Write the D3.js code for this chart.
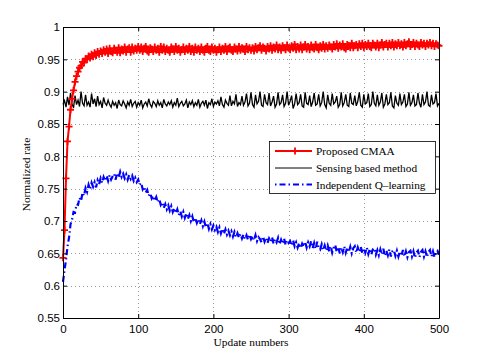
<!DOCTYPE html>
<html>
<head>
<meta charset="utf-8">
<script src="https://cdn.jsdelivr.net/npm/d3@7"></script>
<style>
body { margin: 0; background: #fff; }
.tick text { font-family: "Liberation Sans", Arial, sans-serif; font-size: 11.5px; fill: #000; }
.label, .legend text { font-family: "Liberation Serif", "Times New Roman", serif; fill: #000; }
</style>
</head>
<body>
<script>
// update numbers (x), one reading every 2 updates
var updates = d3.range(0, 501, 2);

// Proposed CMAA
var cmaa = [
  0.643, 0.686, 0.766, 0.823, 0.846, 0.872, 0.889, 0.902, 0.915, 0.924,
  0.931, 0.937, 0.940, 0.946, 0.945, 0.951, 0.950, 0.955, 0.952, 0.958,
  0.954, 0.960, 0.956, 0.962, 0.958, 0.963,
  0.959, 0.965, 0.961, 0.966, 0.959, 0.967, 0.962, 0.960, 0.967, 0.964,
  0.961, 0.968, 0.960, 0.966, 0.963, 0.969, 0.961, 0.966, 0.968, 0.961,
  0.969, 0.963, 0.967, 0.964, 0.970,
  0.964, 0.969, 0.962, 0.967, 0.970, 0.963, 0.961, 0.968, 0.966, 0.962,
  0.969, 0.964, 0.967, 0.961, 0.970, 0.964, 0.969, 0.962, 0.967, 0.964,
  0.961, 0.969, 0.966, 0.962, 0.970, 0.964, 0.967, 0.961, 0.965, 0.969,
  0.962, 0.967, 0.964, 0.970, 0.962, 0.967, 0.961, 0.969, 0.964, 0.967,
  0.962, 0.969, 0.964, 0.961, 0.967, 0.970, 0.964, 0.962, 0.969, 0.964,
  0.967, 0.961, 0.965, 0.969, 0.962, 0.967, 0.964, 0.970, 0.962, 0.967,
  0.969, 0.964, 0.962, 0.969, 0.966, 0.963, 0.970, 0.964, 0.968, 0.966,
  0.962, 0.970, 0.965, 0.968, 0.964,
  0.968, 0.963, 0.970, 0.965, 0.968, 0.971, 0.964, 0.969, 0.967, 0.963,
  0.970, 0.966, 0.971, 0.964, 0.969, 0.966, 0.972, 0.965, 0.969, 0.964,
  0.971, 0.968, 0.965, 0.972, 0.967, 0.965, 0.971, 0.967, 0.973, 0.965,
  0.970, 0.966, 0.972, 0.965, 0.969, 0.973, 0.966, 0.970, 0.965, 0.972,
  0.968, 0.966, 0.973, 0.968, 0.965, 0.971, 0.967, 0.973, 0.966, 0.971,
  0.967, 0.972, 0.969, 0.966, 0.973, 0.969, 0.974, 0.967, 0.972, 0.969,
  0.974, 0.968, 0.966, 0.973, 0.971, 0.968, 0.975, 0.968, 0.971, 0.973,
  0.968, 0.974, 0.970, 0.975, 0.968, 0.973, 0.970, 0.975, 0.970, 0.968,
  0.975, 0.972, 0.969, 0.975, 0.968, 0.972, 0.976, 0.969, 0.973, 0.975,
  0.969, 0.975, 0.971, 0.976, 0.969, 0.974, 0.971, 0.976, 0.971, 0.974,
  0.969, 0.976, 0.971, 0.974, 0.977, 0.970, 0.973, 0.976, 0.970, 0.975,
  0.972, 0.970, 0.976, 0.972, 0.975, 0.970, 0.975, 0.972, 0.976, 0.971,
  0.975, 0.970, 0.974, 0.972, 0.971
];

// Sensing based method
var sensing = [
  0.880, 0.886, 0.876, 0.892, 0.879, 0.898, 0.881, 0.875, 0.894, 0.880,
  0.887, 0.877, 0.900, 0.882, 0.878, 0.895, 0.879, 0.884, 0.876, 0.897,
  0.881, 0.889, 0.877, 0.893, 0.880, 0.885, 0.875, 0.891, 0.882, 0.879,
  0.887,
  0.880, 0.876, 0.885, 0.879, 0.883, 0.874, 0.887, 0.880, 0.878, 0.886,
  0.881, 0.875, 0.884, 0.879, 0.888, 0.877, 0.882, 0.885, 0.876, 0.883,
  0.879, 0.887, 0.875, 0.881, 0.884, 0.878, 0.889, 0.880, 0.876, 0.885,
  0.882, 0.877, 0.886, 0.879, 0.883, 0.875, 0.888, 0.881, 0.878, 0.884,
  0.880, 0.886, 0.876, 0.883, 0.879, 0.890, 0.877, 0.882, 0.885, 0.878,
  0.881, 0.887, 0.875, 0.884, 0.880, 0.886, 0.877, 0.883, 0.879, 0.888,
  0.876, 0.882, 0.885, 0.879, 0.887, 0.874, 0.883, 0.880, 0.889, 0.877,
  0.884, 0.881, 0.886, 0.878, 0.892, 0.880, 0.876, 0.887, 0.882, 0.879,
  0.894, 0.878, 0.885, 0.881, 0.896, 0.877, 0.883, 0.880, 0.893, 0.879,
  0.884, 0.897, 0.878, 0.882, 0.899, 0.880, 0.876, 0.895, 0.881, 0.885,
  0.900, 0.879, 0.877, 0.896, 0.883, 0.880, 0.898, 0.878, 0.884, 0.893,
  0.876, 0.881, 0.899, 0.880, 0.883, 0.895, 0.877, 0.882, 0.900, 0.879,
  0.885, 0.894, 0.874, 0.881, 0.897, 0.880, 0.883, 0.896, 0.878, 0.876,
  0.899, 0.882, 0.880, 0.894, 0.877, 0.884, 0.898, 0.879, 0.881, 0.896,
  0.878, 0.883, 0.900, 0.880, 0.875, 0.895, 0.882, 0.879, 0.897, 0.881,
  0.884, 0.893, 0.876, 0.880, 0.899, 0.878, 0.883, 0.896, 0.879, 0.877,
  0.898, 0.882, 0.880, 0.894, 0.878, 0.885, 0.899, 0.879, 0.876, 0.896,
  0.881, 0.883, 0.897, 0.877, 0.880, 0.900, 0.882, 0.878, 0.895, 0.879,
  0.884, 0.898, 0.876, 0.881, 0.896, 0.880, 0.883, 0.899, 0.878, 0.875,
  0.894, 0.882, 0.879, 0.897, 0.880, 0.884, 0.896, 0.877, 0.881, 0.899,
  0.879, 0.883, 0.895, 0.878, 0.880, 0.898, 0.882, 0.876, 0.896, 0.880,
  0.884, 0.900, 0.879, 0.877, 0.895, 0.881, 0.883, 0.897, 0.878, 0.882
];

// Independent Q-learning
var qlearning = [
  0.606, 0.624, 0.640, 0.661, 0.674, 0.695, 0.702, 0.714, 0.713, 0.726,
  0.725, 0.736, 0.731, 0.744, 0.739, 0.751, 0.745, 0.756, 0.749, 0.759,
  0.753, 0.760, 0.752, 0.763, 0.757, 0.766, 0.759, 0.768, 0.762, 0.770,
  0.762, 0.771, 0.764, 0.769, 0.773, 0.764, 0.774, 0.767, 0.776, 0.768,
  0.773, 0.766, 0.772, 0.764, 0.771, 0.765, 0.770, 0.762, 0.767, 0.760,
  0.764, 0.756, 0.759, 0.749, 0.753, 0.744, 0.748, 0.739, 0.743, 0.735,
  0.739, 0.731, 0.737, 0.729, 0.734, 0.725, 0.729, 0.720, 0.726, 0.718,
  0.724, 0.716, 0.723, 0.714, 0.720, 0.712, 0.718, 0.709, 0.715, 0.707,
  0.714, 0.705, 0.712, 0.703, 0.709, 0.700, 0.707, 0.698, 0.705, 0.697,
  0.703, 0.695, 0.701, 0.692, 0.699, 0.690, 0.697, 0.688, 0.695, 0.687,
  0.693, 0.686, 0.691, 0.683, 0.690, 0.681, 0.688, 0.680, 0.687, 0.679,
  0.685, 0.678, 0.684, 0.676, 0.683, 0.675, 0.681, 0.674, 0.680, 0.673,
  0.679, 0.672, 0.678, 0.671, 0.679, 0.672,
  0.677, 0.670, 0.678, 0.669, 0.675, 0.672, 0.667, 0.676, 0.668, 0.674,
  0.666, 0.673, 0.668, 0.675, 0.665, 0.672, 0.667, 0.674, 0.664, 0.671,
  0.665, 0.673, 0.663, 0.670, 0.666,
  0.669, 0.662, 0.670, 0.661, 0.667, 0.659, 0.666, 0.658, 0.665, 0.660,
  0.668, 0.659, 0.667, 0.661, 0.669, 0.658, 0.666, 0.657, 0.668, 0.659,
  0.656, 0.664, 0.655, 0.662, 0.654,
  0.662, 0.653, 0.661, 0.651, 0.659, 0.663, 0.652, 0.660, 0.650, 0.659,
  0.652, 0.661, 0.651, 0.659, 0.652, 0.660, 0.650, 0.658, 0.661, 0.651,
  0.659, 0.652, 0.660, 0.650, 0.658,
  0.651, 0.659, 0.649, 0.657, 0.648, 0.656, 0.658, 0.648, 0.655, 0.647,
  0.656, 0.648, 0.657, 0.646, 0.654, 0.647, 0.656, 0.645, 0.653, 0.655,
  0.646, 0.654, 0.645, 0.653, 0.646,
  0.655, 0.645, 0.653, 0.644, 0.652, 0.654, 0.645, 0.653, 0.643, 0.651,
  0.654, 0.644, 0.652, 0.655, 0.645, 0.653, 0.644, 0.652, 0.655, 0.645,
  0.653, 0.644, 0.652, 0.654, 0.648
];

var xTicks = [0, 100, 200, 300, 400, 500];
var yTicks = [0.55, 0.6, 0.65, 0.7, 0.75, 0.8, 0.85, 0.9, 0.95, 1];
var legendNames = ["Proposed CMAA", "Sensing based method", "Independent Q\u2013learning"];

// chart margins
var margin = {top: 27, right: 46, bottom: 40, left: 63},
    width = 485 - margin.left - margin.right,
    height = 358 - margin.top - margin.bottom;

var xScale = d3.scaleLinear().domain([0, 500]).range([0, width]),
    yScale = d3.scaleLinear().domain([0.55, 1]).range([height, 0]);

var svg = d3.select("body").append("svg")
    .attr("width", width + margin.left + margin.right)
    .attr("height", height + margin.top + margin.bottom)
  .append("g")
    .attr("transform", "translate(" + margin.left + "," + margin.top + ")");

// dotted grid
svg.append("g").selectAll("line")
    .data(xTicks.slice(1, -1))
  .enter().append("line")
    .attr("x1", function(d) { return Math.round(xScale(d)) + 0.5; })
    .attr("x2", function(d) { return Math.round(xScale(d)) + 0.5; })
    .attr("y1", 0).attr("y2", height)
    .attr("stroke", "#999").attr("stroke-dasharray", "1,3");
svg.append("g").selectAll("line")
    .data(yTicks.slice(1, -1))
  .enter().append("line")
    .attr("y1", function(d) { return Math.round(yScale(d)) + 0.5; })
    .attr("y2", function(d) { return Math.round(yScale(d)) + 0.5; })
    .attr("x1", 0).attr("x2", width)
    .attr("stroke", "#999").attr("stroke-dasharray", "1,3");

// series lines
var pts = function(arr) { return arr.map(function(v, i) { return [updates[i], v]; }); };
var line = d3.line()
    .x(function(d) { return xScale(d[0]); })
    .y(function(d) { return yScale(d[1]); });

svg.append("path")
    .attr("d", line(pts(sensing)))
    .attr("fill", "none").attr("stroke", "#000").attr("stroke-width", 1.3);

svg.append("path")
    .attr("d", line(pts(qlearning)))
    .attr("fill", "none").attr("stroke", "#0000ff").attr("stroke-width", 2.2)
    .attr("stroke-dasharray", "6,3,1.5,3");

svg.append("path")
    .attr("d", line(pts(cmaa)))
    .attr("fill", "none").attr("stroke", "#ff0000").attr("stroke-width", 2);

var plus = "M-3.5,0H3.5M0,-3.5V3.5";
svg.append("g").selectAll("path")
    .data(pts(cmaa))
  .enter().append("path")
    .attr("transform", function(d) { return "translate(" + xScale(d[0]) + "," + yScale(d[1]) + ")"; })
    .attr("d", plus)
    .attr("fill", "none").attr("stroke", "#ff0000").attr("stroke-width", 1.8);

// axes, ticks inward on all four sides
svg.append("g")
    .attr("class", "x axis")
    .attr("transform", "translate(0," + height + ")")
    .call(d3.axisBottom(xScale).tickValues(xTicks).tickSize(-4).tickSizeOuter(0).tickPadding(7));
svg.append("g")
    .attr("class", "y axis")
    .call(d3.axisLeft(yScale).tickValues(yTicks).tickFormat(d3.format("~g")).tickSize(-4).tickSizeOuter(0).tickPadding(3));
svg.append("g")
    .call(d3.axisTop(xScale).tickValues(xTicks).tickSize(-4).tickSizeOuter(0).tickFormat(""));
svg.append("g")
    .attr("transform", "translate(" + width + ",0)")
    .call(d3.axisRight(yScale).tickValues(yTicks).tickSize(-4).tickSizeOuter(0).tickFormat(""));
svg.selectAll(".domain, .tick line").attr("stroke", "#000");

// axis labels
svg.append("text")
    .attr("class", "label")
    .attr("x", width / 2)
    .attr("y", height + 28)
    .style("text-anchor", "middle")
    .style("font-size", "11.4px")
    .text("Update numbers");
svg.append("text")
    .attr("class", "label")
    .attr("transform", "rotate(-90)")
    .attr("x", -height / 2 - 2)
    .attr("y", -33)
    .style("text-anchor", "middle")
    .style("font-size", "11.4px")
    .text("Normalized rate");

// legend
var legend = svg.append("g")
    .attr("class", "legend")
    .attr("transform", "translate(" + (269 - margin.left) + "," + (141 - margin.top) + ")");
legend.append("rect")
    .attr("x", 0.5).attr("y", 0.5)
    .attr("width", 166).attr("height", 52)
    .attr("fill", "#fff").attr("stroke", "#000").attr("stroke-width", 0.8);

var rowY = [10, 27, 43.5];
legend.append("line").attr("x1", 6).attr("x2", 43).attr("y1", rowY[0]).attr("y2", rowY[0])
    .attr("stroke", "#ff0000").attr("stroke-width", 2);
legend.append("path").attr("transform", "translate(26," + rowY[0] + ")").attr("d", plus)
    .attr("stroke", "#ff0000").attr("stroke-width", 1.8);
legend.append("line").attr("x1", 6).attr("x2", 43).attr("y1", rowY[1]).attr("y2", rowY[1])
    .attr("stroke", "#000").attr("stroke-width", 1);
legend.append("line").attr("x1", 6).attr("x2", 43).attr("y1", rowY[2]).attr("y2", rowY[2])
    .attr("stroke", "#0000ff").attr("stroke-width", 2.2).attr("stroke-dasharray", "1.5,3,6,3");

legend.selectAll("text")
    .data(legendNames)
  .enter().append("text")
    .attr("x", 47)
    .attr("y", function(d, i) { return rowY[i] + 4; })
    .style("font-size", "11.3px")
    .text(function(d) { return d; });
</script>
</body>
</html>
